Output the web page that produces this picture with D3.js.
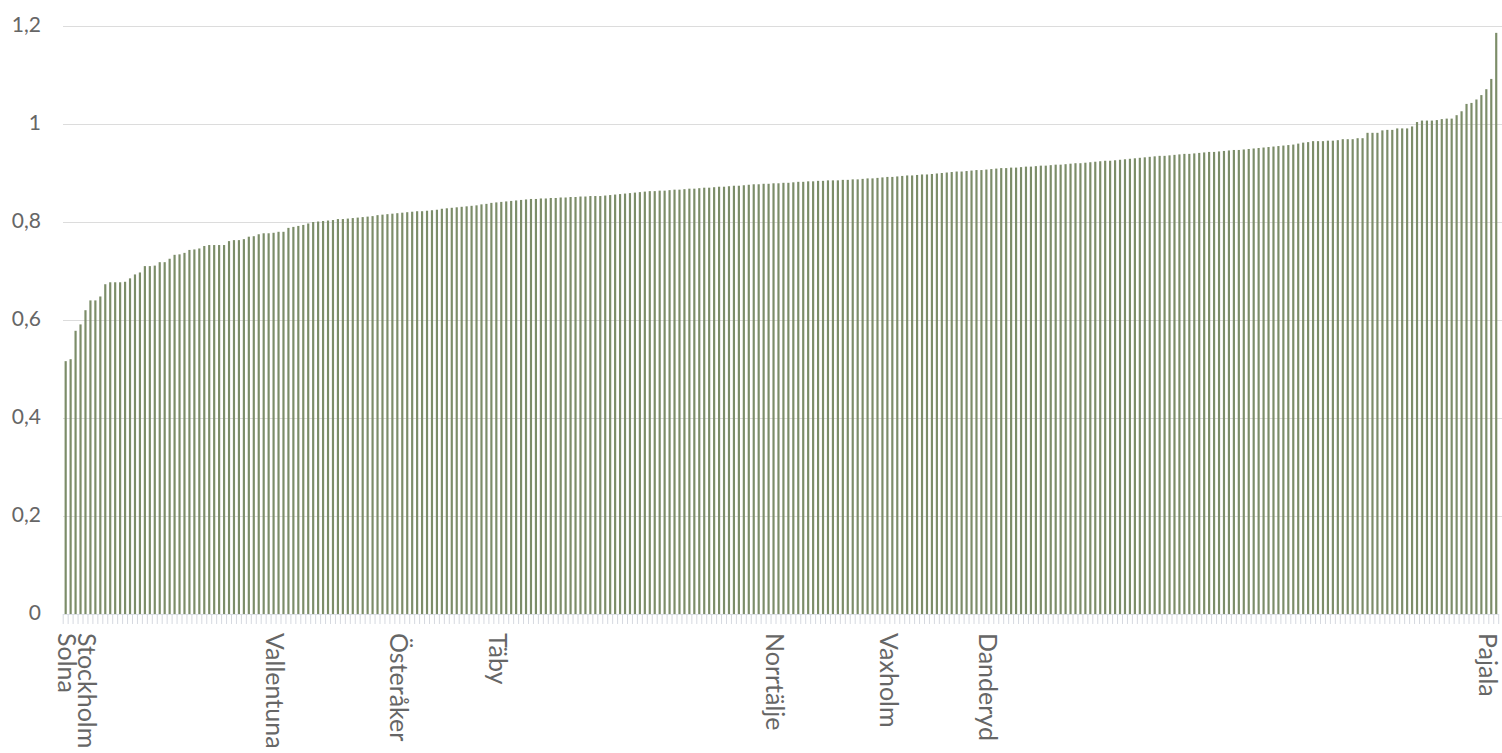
<!DOCTYPE html>
<html>
<head>
<meta charset="utf-8">
<script src="https://cdn.jsdelivr.net/npm/d3@7"></script>
<style>
  html, body { margin: 0; padding: 0; background: #fff; }
  svg { display: block; }
  text { font-family: "Lato", "Open Sans", sans-serif; fill: #666; }
</style>
</head>
<body>
<div id="chart"></div>
<script>
const WIDTH = 1502;
const HEIGHT = 753;

// Values, sorted ascending (290 municipalities)
const values = [
  0.516, 0.520, 0.578, 0.591, 0.620, 0.640, 0.640, 0.648, 0.673, 0.677,
  0.677, 0.677, 0.678, 0.685, 0.693, 0.697, 0.710, 0.710, 0.711, 0.718,
  0.718, 0.725, 0.733, 0.734, 0.737, 0.743, 0.744, 0.746, 0.751, 0.753,
  0.753, 0.753, 0.753, 0.761, 0.763, 0.763, 0.765, 0.770, 0.771, 0.775,
  0.777, 0.777, 0.778, 0.780, 0.780, 0.788, 0.790, 0.792, 0.794, 0.797,
  0.800, 0.801, 0.802, 0.803, 0.804, 0.806, 0.806, 0.807, 0.808, 0.809,
  0.810, 0.811, 0.812, 0.814, 0.815, 0.816, 0.817, 0.818, 0.819, 0.820,
  0.821, 0.822, 0.822, 0.823, 0.824, 0.825, 0.827, 0.828, 0.829, 0.830,
  0.831, 0.832, 0.833, 0.834, 0.836, 0.837, 0.839, 0.840, 0.841, 0.842,
  0.843, 0.844, 0.845, 0.846, 0.847, 0.847, 0.848, 0.848, 0.849, 0.849,
  0.850, 0.850, 0.851, 0.851, 0.852, 0.852, 0.853, 0.853, 0.853, 0.854,
  0.855, 0.856, 0.857, 0.858, 0.859, 0.860, 0.861, 0.862, 0.863, 0.863,
  0.864, 0.864, 0.865, 0.866, 0.866, 0.867, 0.868, 0.868, 0.869, 0.870,
  0.870, 0.871, 0.872, 0.872, 0.873, 0.874, 0.874, 0.875, 0.876, 0.877,
  0.877, 0.878, 0.878, 0.879, 0.879, 0.880, 0.880, 0.881, 0.882, 0.882,
  0.883, 0.883, 0.884, 0.884, 0.885, 0.885, 0.885, 0.886, 0.886, 0.887,
  0.887, 0.888, 0.889, 0.889, 0.890, 0.891, 0.892, 0.892, 0.893, 0.894,
  0.895, 0.895, 0.896, 0.897, 0.897, 0.898, 0.899, 0.900, 0.901, 0.902,
  0.903, 0.903, 0.904, 0.905, 0.906, 0.906, 0.907, 0.908, 0.909, 0.910,
  0.910, 0.911, 0.911, 0.912, 0.913, 0.913, 0.914, 0.915, 0.915, 0.916,
  0.917, 0.917, 0.918, 0.919, 0.920, 0.920, 0.921, 0.922, 0.923, 0.924,
  0.925, 0.925, 0.926, 0.927, 0.928, 0.929, 0.930, 0.931, 0.932, 0.933,
  0.934, 0.935, 0.935, 0.936, 0.937, 0.938, 0.939, 0.939, 0.940, 0.941,
  0.942, 0.943, 0.943, 0.944, 0.945, 0.946, 0.947, 0.947, 0.948, 0.949,
  0.950, 0.951, 0.952, 0.953, 0.954, 0.955, 0.956, 0.957, 0.958, 0.960,
  0.962, 0.963, 0.965, 0.965, 0.965, 0.966, 0.966, 0.967, 0.969, 0.969,
  0.969, 0.971, 0.971, 0.982, 0.982, 0.982, 0.987, 0.988, 0.988, 0.991,
  0.991, 0.991, 0.995, 1.004, 1.007, 1.007, 1.007, 1.008, 1.010, 1.011,
  1.011, 1.018, 1.026, 1.041, 1.043, 1.050, 1.059, 1.071, 1.092, 1.186
];

// Only some categories carry a visible label
const labelNames = ["Solna", "Stockholm", "Vallentuna", "Österåker", "Täby",
                    "Norrtälje", "Vaxholm", "Danderyd", "Pajala"];
const labelIndex = [0, 4, 42, 67, 87, 143, 166, 186, 289];

const yTicks = [0, 0.2, 0.4, 0.6, 0.8, 1, 1.2];

var categories = values.map(function(d, i) {
  var k = labelIndex.indexOf(i);
  return k >= 0 ? labelNames[k] : "";
});

var svg = d3.select("#chart")
  .append("svg")
  .attr("width", WIDTH)
  .attr("height", HEIGHT);

var x = d3.scaleBand()
  .domain(d3.range(values.length))
  .range([63.2, 1498.7])
  .paddingInner(0)
  .paddingOuter(0);

var y = d3.scaleLinear()
  .domain([0, 1.2])
  .range([614, 26]);

var formatTick = function(d) { return String(d).replace(".", ","); };

// Grid lines
svg.append("g")
  .selectAll("line")
  .data(yTicks.slice(1))
  .enter().append("line")
  .attr("x1", 63)
  .attr("x2", WIDTH)
  .attr("y1", function(d) { return Math.round(y(d)) + 0.5; })
  .attr("y2", function(d) { return Math.round(y(d)) + 0.5; })
  .style("stroke", "#dcdcdc")
  .style("stroke-width", 1);

// Y axis labels
svg.append("g")
  .selectAll("text")
  .data(yTicks)
  .enter().append("text")
  .attr("x", 41)
  .attr("y", function(d) { return y(d) - 1; })
  .attr("dy", "0.35em")
  .attr("text-anchor", "end")
  .attr("font-size", "21")
  .text(formatTick);

// Bars
var barWidth = x.bandwidth() * 0.44;

svg.append("g")
  .selectAll("rect")
  .data(values)
  .enter().append("rect")
  .attr("x", function(d, i) { return x(i) + (x.bandwidth() - barWidth) / 2; })
  .attr("y", function(d) { return y(d); })
  .attr("width", barWidth)
  .attr("height", function(d) { return y(0) - y(d); })
  .attr("fill", "#7c8d69");

// X axis: line, ticks between categories, labels
var axis = svg.append("g")
  .attr("transform", "translate(0," + y(0) + ")");

axis.append("line")
  .attr("x1", x.range()[0])
  .attr("x2", x.range()[1])
  .attr("y1", 0.5)
  .attr("y2", 0.5)
  .style("stroke", "#dcdfe6");

axis.selectAll("line.tick")
  .data(d3.range(values.length + 1))
  .enter().append("line")
  .attr("class", "tick")
  .attr("x1", function(i) { return x.range()[0] + i * x.step(); })
  .attr("x2", function(i) { return x.range()[0] + i * x.step(); })
  .attr("y1", 0)
  .attr("y2", 10)
  .style("stroke", "#d6d9e0")
  .style("stroke-width", 1);

// keep the last label inside the picture
axis.selectAll("text")
  .data(categories.map(function(c, i) { return {name: c, i: i}; })
    .filter(function(d) { return d.name !== ""; }))
  .enter().append("text")
  .attr("transform", function(d) {
    var cx = Math.min(x(d.i) + x.bandwidth() / 2, WIDTH - 15);
    return "translate(" + cx + ",19) rotate(90)";
  })
  .attr("dy", "0.31em")
  .attr("text-anchor", "start")
  .attr("font-size", "25")
  .text(function(d) { return d.name; });
</script>
</body>
</html>
